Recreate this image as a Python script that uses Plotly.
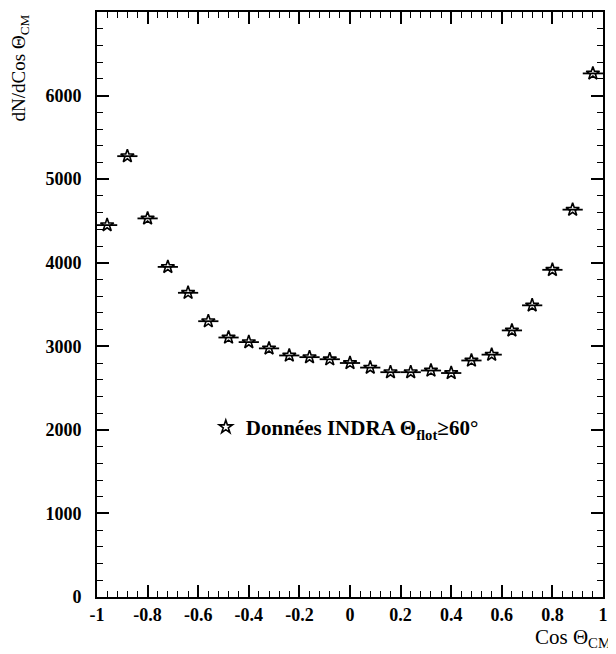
import plotly.graph_objects as go

cos_cm = [-0.96, -0.88, -0.80, -0.72, -0.64, -0.56, -0.48, -0.40, -0.32, -0.24,
          -0.16, -0.08, 0.00, 0.08, 0.16, 0.24, 0.32, 0.40, 0.48, 0.56,
          0.64, 0.72, 0.80, 0.88, 0.96]
dn_dcos = [4450, 5275, 4530, 3950, 3640, 3300, 3105, 3050, 2975, 2890,
           2870, 2845, 2800, 2745, 2690, 2690, 2710, 2680, 2830, 2900,
           3190, 3490, 3915, 4635, 6265]
half_bin = [0.04] * len(cos_cm)

x_ticks = [-1, -0.8, -0.6, -0.4, -0.2, 0, 0.2, 0.4, 0.6, 0.8, 1]
x_tick_text = ["-1", "-0.8", "-0.6", "-0.4", "-0.2", "0", "0.2", "0.4", "0.6", "0.8", "1"]
y_ticks = [0, 1000, 2000, 3000, 4000, 5000, 6000]
y_tick_text = ["0", "1000", "2000", "3000", "4000", "5000", "6000"]

FONT = "Liberation Serif"

fig = go.Figure()
fig.add_trace(go.Scatter(
    x=cos_cm, y=dn_dcos, mode="markers",
    name="Données INDRA Θ<sub>flot</sub>≥60°",
    marker=dict(symbol="star-open", size=10, color="black", line=dict(width=1.6, color="black")),
    error_x=dict(type="data", array=half_bin, width=0, thickness=1.8, color="black"),
))

axis_common = dict(
    showline=True, linecolor="black", linewidth=2, mirror="ticks",
    ticks="inside", ticklen=12, tickwidth=1.5, tickcolor="black",
    showgrid=False, zeroline=False,
    tickfont=dict(family=FONT, size=18, color="black", weight="bold"),
)

fig.update_xaxes(
    range=[-1, 1], tickmode="array", tickvals=x_ticks, ticktext=x_tick_text,
    minor=dict(ticks="inside", ticklen=6, tickwidth=1, tickcolor="black", dtick=0.04, showgrid=False),
    **axis_common,
)
fig.update_yaxes(
    range=[0, 7000], tickmode="array", tickvals=y_ticks, ticktext=y_tick_text,
    ticklabelstandoff=10,
    minor=dict(ticks="inside", ticklen=6, tickwidth=1, tickcolor="black", dtick=200, showgrid=False),
    **axis_common,
)

fig.add_annotation(
    xref="paper", yref="paper", x=1.02, y=-0.044, xanchor="right", yanchor="top",
    text="Cos Θ<sub>CM</sub>", showarrow=False,
    font=dict(family=FONT, size=21, color="black"),
)
fig.add_annotation(
    xref="paper", yref="paper", x=-0.18, y=1.0, xanchor="left", yanchor="top",
    text="dN/dCos Θ<sub>CM</sub>", showarrow=False, textangle=-90,
    font=dict(family=FONT, size=19, color="black"),
)

fig.update_layout(
    width=608, height=646,
    margin=dict(l=89, r=13, t=2, b=57),
    paper_bgcolor="white", plot_bgcolor="white",
    showlegend=True,
    legend=dict(
        x=0.215, y=0.29, xanchor="left", yanchor="middle",
        bgcolor="rgba(0,0,0,0)", borderwidth=0,
        font=dict(family=FONT, size=21, color="black", weight="bold"),
    ),
)

fig.write_html("out.html")
